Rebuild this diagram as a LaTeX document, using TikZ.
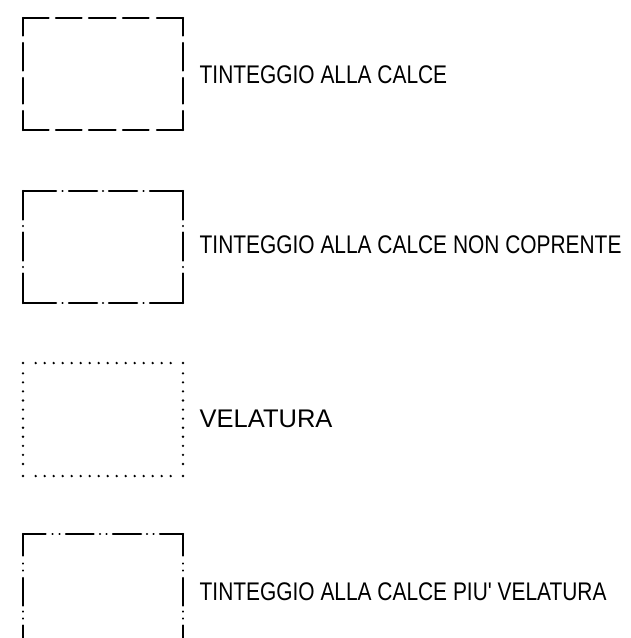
\documentclass[tikz,border=0pt]{standalone}
\usepackage{fontspec}
\setmainfont{Liberation Sans}
\newfontfamily\narrowfont[FakeStretch=0.82]{Liberation Sans}
\tikzset{
  edge/.style={line width=2.5pt, line cap=round, black},
  bAh/.style={edge, dash pattern=on 25.5pt off 7.5pt on 25.5pt off 7.5pt on 26.5pt off 7.5pt on 25.5pt off 8.5pt on 26pt},
  bAv/.style={edge, dash pattern=on 17.5pt off 7.5pt on 27.5pt off 7.5pt on 25.5pt off 7.5pt on 19pt},
  bBh/.style={edge, dash pattern=on 33pt off 6.5pt on 0.01pt off 6.5pt on 28pt off 6pt on 0.01pt off 6pt on 28pt off 6.5pt on 0.01pt off 6.5pt on 33pt},
  bBv/.style={edge, dash pattern=on 28.5pt off 6.5pt on 0.01pt off 6.5pt on 28pt off 6.5pt on 0.01pt off 6.5pt on 29.5pt},
  bDh/.style={edge, dash pattern=on 22.5pt off 7pt on 0.01pt off 7pt on 0.01pt off 6.5pt on 27.5pt off 6.5pt on 0.01pt off 6.5pt on 0.01pt off 6.5pt on 28pt off 6pt on 0.01pt off 6.5pt on 0.01pt off 6.5pt on 23pt},
  bDv/.style={edge, dash pattern=on 21.5pt off 8pt on 0.01pt off 7pt on 0.01pt off 7.5pt on 27.5pt off 6pt on 0.01pt off 7pt on 0.01pt off 7pt on 30pt},
  dotmark/.style={fill=black},
  lbl/.style={anchor=base west, inner sep=0pt, font=\fontsize{25.5}{28}\selectfont},
  nlbl/.style={anchor=base west, inner sep=0pt, font=\narrowfont\fontsize{25.5}{28}\selectfont},
}
\begin{document}
\begin{tikzpicture}[x=1pt,y=-1pt]
\useasboundingbox (0,0) rectangle (630,638);
\clip (0,0) rectangle (630,638);
% box 1: dashed
\draw[bAh] (23,18) -- (183,18);
\draw[bAh] (23,130) -- (183,130);
\draw[bAv] (23,18) -- (23,130);
\draw[bAv] (183,18) -- (183,130);
\node[nlbl] (t1) at (199.5,83.3) {TINTEGGIO ALLA CALCE};
% box 2: dash-dot
\draw[bBh] (23,191) -- (183,191);
\draw[bBh] (23,303) -- (183,303);
\draw[bBv] (23,191) -- (23,303);
\draw[bBv] (183,191) -- (183,303);
\node[nlbl] (t2) at (199.5,253.3) {TINTEGGIO ALLA CALCE NON COPRENTE};
% box 3: dotted
\foreach \yy in {363,476} {
  \fill[dotmark] (23,\yy) circle[radius=1.3pt];
  \fill[dotmark] (183,\yy) circle[radius=1.3pt];
  \foreach \k in {0,...,15} \fill[dotmark] ({35.7+9*\k},\yy) circle[radius=1.3pt];
}
\foreach \xx in {23,183} {
  \foreach \k in {0,...,10} \fill[dotmark] (\xx,{373.3+9.07*\k}) circle[radius=1.3pt];
}
\node[lbl] (t3) at (199.5,427.7) {VELATURA};
% box 4: dash-dot-dot
\draw[bDh] (23,534) -- (183,534);
\draw[bDh] (23,646) -- (183,646);
\draw[bDv] (23,534) -- (23,646);
\draw[bDv] (183,534) -- (183,646);
\node[nlbl] (t4) at (199.5,600) {TINTEGGIO ALLA CALCE PIU' VELATURA};
\end{tikzpicture}
\end{document}
